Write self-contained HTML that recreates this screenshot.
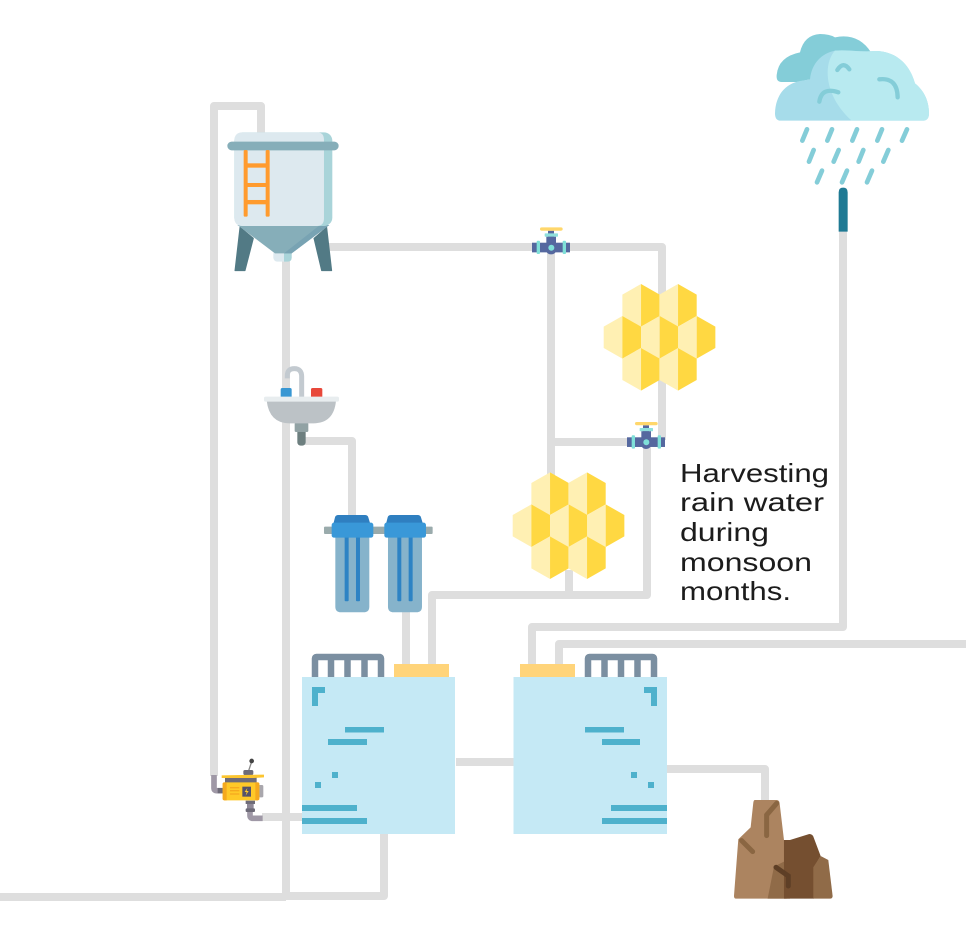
<!DOCTYPE html>
<html><head><meta charset="utf-8"><title>Rain water harvesting</title>
<style>html,body{margin:0;padding:0;background:#fff}svg{display:block}</style></head>
<body>
<svg width="966" height="949" viewBox="0 0 966 949" xmlns="http://www.w3.org/2000/svg">
<rect width="966" height="949" fill="#fff"/>
<g fill="none" stroke="#dedede" stroke-width="8" stroke-linejoin="round">
<path d="M214 776V106H261V140"/>
<path d="M286 255V897"/>
<path d="M325 247H662V440"/>
<path d="M551 247V480"/>
<path d="M551 442H640"/>
<path d="M647 442V595H432V666"/>
<path d="M569 570V595"/>
<path d="M406 608V666"/>
<path d="M305 441H352V525"/>
<path d="M0 897H286"/>
<path d="M286 896H384V830"/>
<path d="M262 817H302"/>
<path d="M456 762H514"/>
<path d="M667 769H765V805"/>
<path d="M532 666V627H843V225"/>
<path d="M559 666V644H966"/>
</g>

<!-- Storage tank -->
<g transform="translate(200 90) scale(.3333)">
<path d="M120 412L160 445L135 542H105Z" fill="#527a85" stroke="#527a85" stroke-width="3" stroke-linejoin="round"/>
<path d="M380 412L342 445L365 542H395Z" fill="#527a85" stroke="#527a85" stroke-width="3" stroke-linejoin="round"/>
<rect x="220" y="480" width="55" height="35" rx="12" fill="#dde9ef"/>
<path d="M252 480H275V503Q275 515 263 515H252Z" fill="#a9d4d9"/>
<path d="M112 405H388L275 490H225Z" fill="#86aeb9"/>
<path d="M360 405H388L275 490H252Z" fill="#78a3b3"/>
<rect x="103" y="127" width="294" height="281" rx="25" fill="#a9d4d9"/>
<path d="M128 127H352Q372 127 372 150V385Q372 408 350 408H128Q103 408 103 383V152Q103 127 128 127Z" fill="#dde9ef"/>
<rect x="82" y="155" width="334" height="26" rx="13" fill="#86aeb9"/>
<g fill="#ff9b2e">
<rect x="131" y="180" width="12" height="200" rx="4"/>
<rect x="197" y="180" width="12" height="200" rx="4"/>
<rect x="140" y="220" width="60" height="13"/>
<rect x="140" y="279" width="60" height="12"/>
<rect x="140" y="330" width="60" height="13"/>
</g>
</g>

<!-- Cloud -->
<g transform="translate(760 20) scale(.3333)">
<path d="M65 186Q48 186 50 165Q55 110 120 97Q132 45 180 42Q208 42 225 52Q295 38 333 97L340 150L150 178L110 186Z" fill="#84cdd8"/>
<path d="M62 302Q45 302 45 280C47 225 75 192 120 183L150 178C155 130 185 100 225 92C260 88 300 97 345 93C410 93 450 135 465 190C490 210 507 240 507 280Q507 302 488 302Z" fill="#a6dcea"/>
<path d="M225 92C260 88 300 97 345 93C410 93 450 135 465 190C490 210 507 240 507 280Q507 302 488 302H275C190 225 190 130 225 92Z" fill="#b8eaf0"/>
<g fill="none" stroke="#84cdd8" stroke-linecap="round">
<g stroke-width="13">
<path d="M232 150Q250 122 268 148"/>
<path d="M178 245Q185 200 235 217"/>
<path d="M358 178Q412 172 413 232"/>
</g>
<g stroke-width="14">
<path d="M141 328L127 362M216 328L202 362M291 328L277 362M366 328L352 362M441 328L426 362"/>
<path d="M161 390L147 425M236 390L221 425M310 390L296 425M385 390L370 425"/>
<path d="M186 452L171 487M261 452L246 487M336 452L321 487"/>
</g>
</g>
<path d="M236 635V517Q236 503 249.500 503Q263 503 263 517V635Z" fill="#1f7a94"/>
</g>

<!-- Sink and filters -->
<g transform="translate(250 360) scale(.3333)">
<path d="M112 55V47Q112 26 133 26Q155 26 155 50V112" fill="none" stroke="#c3cad0" stroke-width="15"/>
<rect x="92" y="84" width="33" height="30" rx="5" fill="#3897d3"/>
<rect x="183" y="84" width="34" height="30" rx="5" fill="#e8483a"/>
<rect x="142" y="205" width="25" height="52" rx="10" fill="#6d7f7f"/>
<rect x="134" y="188" width="41" height="28" rx="4" fill="#91a2a4"/>
<path d="M50 122H258Q252 190 190 190H118Q58 190 50 122Z" fill="#bcc2c6"/>
<rect x="42" y="110" width="225" height="15" rx="5" fill="#e8edef"/>

<rect x="222" y="500" width="326" height="22" rx="3" fill="#9aabac"/>
<g id="flt">
<path d="M256 530H358V740Q358 757 341 757H273Q256 757 256 740Z" fill="#86b3cb"/>
<rect x="284" y="530" width="12" height="194" rx="3" fill="#2d83c4"/>
<rect x="318" y="530" width="12" height="194" rx="3" fill="#2d83c4"/>
<path d="M250 492L255 472Q257 465 265 465H345Q353 465 355 472L361 492Z" fill="#2f7fc0"/>
<rect x="245" y="488" width="125" height="45" rx="7" fill="#3998d8"/>
</g>
<use href="#flt" x="158"/>
</g>

<!-- Honeycomb definition -->
<defs>
<g id="hex">
<path d="M0 -64L-56 -32V32L0 64Z" fill="#fff0b3"/>
<path d="M0 -64L56 -32V32L0 64Z" fill="#ffd842"/>
</g>
<g id="comb">
<use href="#hex" x="-56" y="-96"/><use href="#hex" x="55" y="-96"/>
<use href="#hex" x="-112" y="0"/><use href="#hex" x="0" y="0"/><use href="#hex" x="111" y="0"/>
<use href="#hex" x="-56" y="96"/><use href="#hex" x="55" y="96"/>
</g>
<g id="valve">
<rect x="-9" y="-51" width="18" height="20" fill="#55689f"/>
<rect x="-19" y="-43" width="40" height="10" rx="2" fill="#8fe0dc"/>
<rect x="-33" y="-61" width="68" height="10" rx="5" fill="#ffd76b"/>
<path d="M-14 -33H15V6Q15 20 0 20Q-14 20 -14 6Z" fill="#55689f"/>
<rect x="-57" y="-15" width="114" height="29" fill="#55689f"/>
<rect x="-43" y="-21" width="10" height="40" rx="3" fill="#7fe0d8"/>
<rect x="35" y="-21" width="10" height="40" rx="3" fill="#7fe0d8"/>
<circle cx="1" cy="0" r="9" fill="#7fe0d8"/>
</g>
</defs>
<use href="#comb" transform="translate(659.700 337.300) scale(.3333)"/>
<use href="#comb" transform="translate(568.700 525.700) scale(.3333)"/>
<use href="#valve" transform="translate(551 247.700) scale(.3333)"/>
<use href="#valve" transform="translate(646 442.300) scale(.3333)"/>

<!-- Left tank -->
<rect x="302" y="677" width="153" height="157" fill="#c5e9f5"/>
<rect x="394" y="664" width="55" height="13" fill="#ffd47a"/>
<path d="M315 677V658.500Q315 657 316.500 657H379.500Q381 657 381 658.500V677M331 677V658M347.500 677V658M364.500 677V658" fill="none" stroke="#7b8fa1" stroke-width="6.500"/>
<g fill="#4eb1cc">
<path d="M312 687H325V693H318V706H312Z"/>
<rect x="345" y="727" width="39" height="5.500"/>
<rect x="328" y="739" width="39" height="6"/>
<rect x="332" y="772" width="6" height="6"/>
<rect x="315" y="782" width="6" height="6"/>
<rect x="302" y="805" width="55" height="6"/>
<rect x="302" y="818" width="65" height="6"/>
</g>

<!-- Right tank -->
<rect x="513.500" y="677" width="153.500" height="157" fill="#c5e9f5"/>
<rect x="520" y="664" width="55" height="13" fill="#ffd47a"/>
<path d="M588 677V658.500Q588 657 589.500 657H652.500Q654 657 654 658.500V677M604.500 677V658M621 677V658M637.500 677V658" fill="none" stroke="#7b8fa1" stroke-width="6.500"/>
<g fill="#4eb1cc">
<path d="M644 687H657V706H651V693H644Z"/>
<rect x="585" y="727" width="39" height="5.500"/>
<rect x="602" y="739" width="38" height="6"/>
<rect x="631" y="772" width="6" height="6"/>
<rect x="648" y="782" width="6" height="6"/>
<rect x="611" y="805" width="56" height="6"/>
<rect x="602" y="818" width="65" height="6"/>
</g>

<!-- Generator -->
<g transform="translate(200 640) scale(.3333)">
<path d="M42 405V444Q42 452 50 452H70" fill="none" stroke="#9f98a6" stroke-width="17"/>
<path d="M150 510V526Q150 535 159 535H188" fill="none" stroke="#9f98a6" stroke-width="17"/>
<rect x="53" y="444" width="17" height="16" fill="#6e6b78"/>
<rect x="175" y="435" width="15" height="37" rx="4" fill="#a9a7ad"/>
<rect x="75" y="412" width="95" height="16" fill="#6e6b78"/>
<path d="M145 395L155 365" stroke="#8a8a8a" stroke-width="4"/>
<circle cx="155" cy="363" r="7" fill="#444"/>
<rect x="130" y="390" width="30" height="15" rx="5" fill="#6e6b78"/>
<path d="M65 406L192 404V412L160 414H65Z" fill="#fcc530"/>
<rect x="68" y="427" width="110" height="54" rx="5" fill="#ffc928"/>
<path d="M68 432Q68 427 73 427H80V481H73Q68 481 68 476Z" fill="#f5a91e"/>
<path d="M166 427H173Q178 427 178 432V476Q178 481 173 481H166Z" fill="#f5a91e"/>
<path d="M90 443H118M90 452H118M90 462H118" stroke="#f5a91e" stroke-width="4"/>
<rect x="127" y="440" width="26" height="30" fill="#55526a"/>
<path d="M142 444L134 456H140L137 467L146 453H140Z" fill="#ffc928"/>
<rect x="137" y="482" width="28" height="10" fill="#6e6b78"/>
<rect x="141" y="492" width="20" height="14" fill="#8e8896"/>
<rect x="137" y="505" width="28" height="11" rx="3" fill="#6e6b78"/>
</g>

<!-- Rock -->
<g transform="translate(500 630) scale(.3333)">
<path d="M765 510H830Q838 510 839 520L852 630L860 806H708Q702 806 702 798L715 628L752 592L760 518Q761 510 765 510Z" fill="#ac8460"/>
<path d="M803 806L822 710L852 695L875 730L870 806Z" fill="#906b48"/>
<path d="M852 630H870L928 612Q938 612 941 622L962 678L942 712V806H852Z" fill="#754f30"/>
<path d="M940 806V712L962 678L985 690L998 798Q998 806 990 806Z" fill="#906b48"/>
<g fill="none" stroke-linecap="round" stroke-width="15">
<path d="M830 520L800 555V617M725 632L758 665" stroke="#8a6642"/>
<path d="M828 712L865 738V768" stroke="#5e3f26"/>
</g>
</g>

<g font-family="'Liberation Sans',sans-serif" font-size="26" fill="#1c1c1c">
<text x="680" y="482" textLength="149" lengthAdjust="spacingAndGlyphs">Harvesting</text>
<text x="680" y="511" textLength="144" lengthAdjust="spacingAndGlyphs">rain water</text>
<text x="680" y="541" textLength="89" lengthAdjust="spacingAndGlyphs">during</text>
<text x="680" y="571" textLength="132" lengthAdjust="spacingAndGlyphs">monsoon</text>
<text x="680" y="600" textLength="111" lengthAdjust="spacingAndGlyphs">months.</text>
</g>
</svg>
</body></html>
